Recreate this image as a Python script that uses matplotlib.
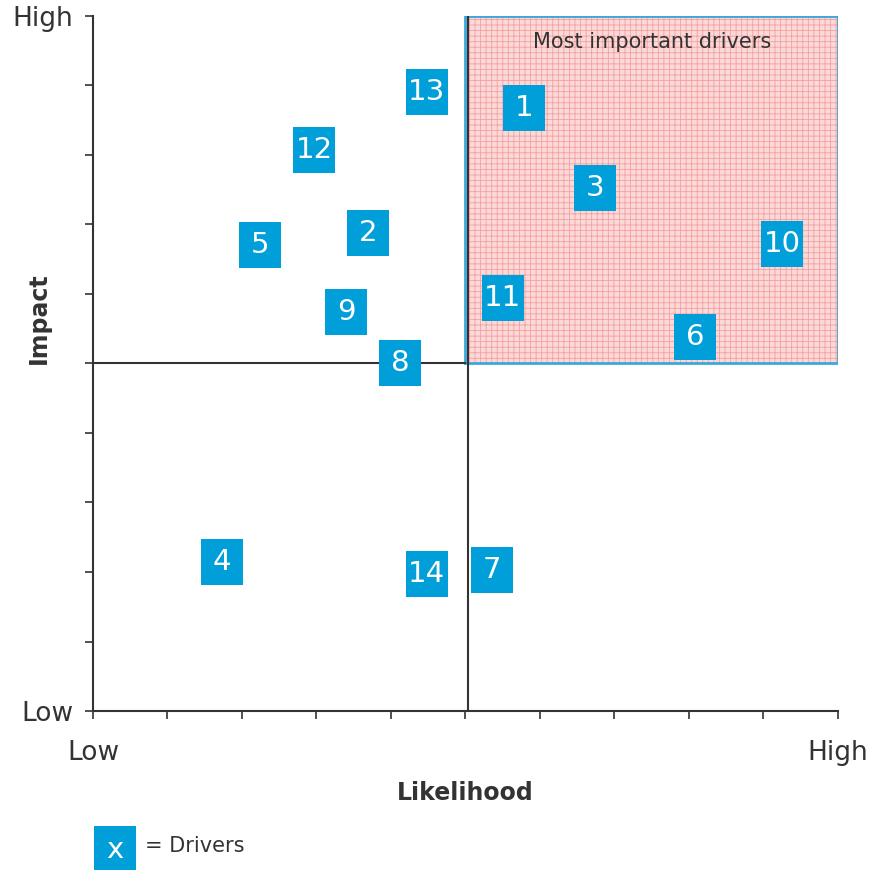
import matplotlib.pyplot as plt
from matplotlib.patches import Rectangle

# driver positions on a 0-10 likelihood / impact grid
drivers = ['1', '2', '3', '4', '5', '6', '7', '8', '9', '10', '11', '12', '13', '14']
likelihood = [5.79, 3.69, 6.74, 1.73, 2.24, 8.08, 5.36, 4.12, 3.40, 9.25, 5.50, 2.97, 4.48, 4.48]
impact = [8.68, 6.88, 7.53, 2.14, 6.71, 5.38, 2.03, 5.01, 5.74, 6.72, 5.94, 8.07, 8.91, 1.97]

blue = '#009fda'
dark = '#333333'
plt.rcParams['font.family'] = ['DejaVu Sans']
plt.rcParams['hatch.linewidth'] = 0.6

fig = plt.figure(figsize=(8.7, 8.71), dpi=100)
ax = fig.add_axes([93 / 870, 160 / 871, 745 / 870, 695 / 871])
ax.set_xlim(0, 10)
ax.set_ylim(0, 10)

# quadrant with the most important drivers
hot = Rectangle((5, 5), 5, 5, facecolor='#fcd9d9', edgecolor='#f4a0a0',
                hatch='+++', linewidth=0, zorder=1)
ax.add_patch(hot)
ax.add_patch(Rectangle((5, 5), 5, 5, fill=False, edgecolor='#3aa8dc',
                       linewidth=2, zorder=2))
ax.plot([0, 5], [5, 5], color=dark, lw=1.5, zorder=2)
ax.plot([5.04, 5.04], [0, 10], color=dark, lw=1.5, zorder=2)
ax.text(7.5, 9.62, 'Most important drivers', ha='center', va='center',
        fontsize=15, color=dark, zorder=3)

bw, bh = 0.56, 0.66
for lab, x, y in zip(drivers, likelihood, impact):
    ax.add_patch(Rectangle((x - bw / 2, y - bh / 2), bw, bh, facecolor=blue,
                           edgecolor='none', zorder=4))
    ax.text(x, y, lab, ha='center', va='center', color='white',
            fontsize=21, zorder=5)

for s in ['top', 'right']:
    ax.spines[s].set_visible(False)
for s in ['left', 'bottom']:
    ax.spines[s].set_color(dark)
    ax.spines[s].set_linewidth(1.5)

ax.set_xticks(range(11))
ax.set_yticks(range(11))
ax.set_xticklabels([])
ax.set_yticklabels(['Low'] + [''] * 9 + ['High'], fontsize=19, color=dark)
ax.tick_params(length=6, width=1.2, color=dark, pad=4)
ax.tick_params(axis='y', pad=8)
ax.text(0, -0.6, 'Low', ha='center', va='center', fontsize=19, color=dark)
ax.text(10, -0.6, 'High', ha='center', va='center', fontsize=19, color=dark)

ax.text(5, -1.18, 'Likelihood', ha='center', va='center', fontsize=17,
        fontweight='bold', color=dark)
ax.text(-0.72, 5.65, 'Impact', rotation=90, ha='center', va='center',
        fontsize=17, fontweight='bold', color=dark)

# legend box
fig.patches.append(Rectangle((94 / 870, 1 - 870 / 871), 42 / 870, 44 / 871,
                             transform=fig.transFigure, facecolor=blue,
                             edgecolor='none'))
fig.text(115 / 870, 1 - 850 / 871, 'x', ha='center', va='center',
         color='white', fontsize=21)
fig.text(145 / 870, 1 - 846 / 871, '= Drivers', ha='left', va='center',
         color=dark, fontsize=15)

fig.savefig('out.png', dpi=100)
